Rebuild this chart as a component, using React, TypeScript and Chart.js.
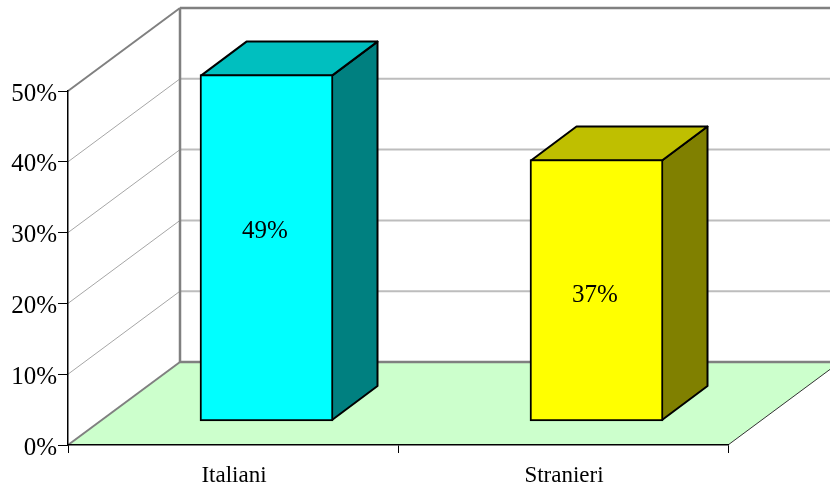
import React, { useEffect, useRef } from "react";
import { Chart, registerables } from "chart.js";

Chart.register(...registerables);

const categories = ["Italiani", "Stranieri"];
const values = [49, 37];
const valueLabels = ["49%", "37%"];
const labelAnchors = [27, 18];
const frontColors = ["#00FFFF", "#FFFF00"];
const topColors = ["#00BFBF", "#BFBF00"];
const sideColors = ["#008080", "#808000"];
const yTicks = [0, 10, 20, 30, 40, 50];

const WALL_DX = 112;
const WALL_DY = 83;
const BAR_SHIFT_X = 33.5;
const BAR_SHIFT_Y = -23.5;
const BAR_DX = 45.5;
const BAR_DY = 34;
const FLOOR = "#CCFFCC";

const line = (ctx: any, pts: number[][], color: string, width: number) => {
  ctx.beginPath();
  pts.forEach((p, i) => (i ? ctx.lineTo(p[0], p[1]) : ctx.moveTo(p[0], p[1])));
  ctx.strokeStyle = color;
  ctx.lineWidth = width;
  ctx.stroke();
};

const poly = (ctx: any, pts: number[][], fill: string) => {
  ctx.beginPath();
  pts.forEach((p, i) => (i ? ctx.lineTo(p[0], p[1]) : ctx.moveTo(p[0], p[1])));
  ctx.closePath();
  ctx.fillStyle = fill;
  ctx.fill();
  ctx.strokeStyle = "#000";
  ctx.lineWidth = 2;
  ctx.lineJoin = "round";
  ctx.stroke();
};

const box3d = {
  id: "box3d",
  beforeDraw(chart: any) {
    const { ctx, scales } = chart;
    const { left, right } = chart.chartArea;
    const y = scales.y;
    const y0 = y.getPixelForValue(0);
    ctx.save();
    ctx.beginPath();
    ctx.moveTo(left, y0);
    ctx.lineTo(right, y0);
    ctx.lineTo(right + WALL_DX, y0 - WALL_DY);
    ctx.lineTo(left + WALL_DX, y0 - WALL_DY);
    ctx.closePath();
    ctx.fillStyle = FLOOR;
    ctx.fill();
    line(ctx, [[right, y0], [right + WALL_DX, y0 - WALL_DY]], "#333", 1);
    yTicks.forEach((v) => {
      const p = y.getPixelForValue(v);
      const outer = v === 0 || v === 50;
      line(ctx, [[left, p], [left + WALL_DX, p - WALL_DY]], outer ? "#808080" : "#A6A6A6", outer ? 2 : 1);
      line(ctx, [[left + WALL_DX, p - WALL_DY], [right + WALL_DX, p - WALL_DY]], outer ? "#808080" : "#BDBDBD", outer ? 2.5 : 2);
    });
    line(ctx, [[left + WALL_DX, y.getPixelForValue(50) - WALL_DY], [left + WALL_DX, y0 - WALL_DY]], "#808080", 2.5);
    ctx.restore();
  },
  beforeDatasetDraw(chart: any, args: any) {
    const { ctx } = chart;
    args.meta.data.forEach((el: any, i: number) => {
      const xl = el.x - el.width / 2 + 1 + BAR_SHIFT_X;
      const xr = el.x + el.width / 2 - 1 + BAR_SHIFT_X;
      const yt = el.y + 1 + BAR_SHIFT_Y;
      const yb = el.base - 1 + BAR_SHIFT_Y;
      poly(ctx, [[xr, yt], [xr + BAR_DX, yt - BAR_DY], [xr + BAR_DX, yb - BAR_DY], [xr, yb]], sideColors[i]);
      poly(ctx, [[xl, yt], [xl + BAR_DX, yt - BAR_DY], [xr + BAR_DX, yt - BAR_DY], [xr, yt]], topColors[i]);
    });
    ctx.save();
    ctx.translate(BAR_SHIFT_X, BAR_SHIFT_Y);
  },
  afterDatasetDraw(chart: any) {
    chart.ctx.restore();
  },
  afterDatasetsDraw(chart: any) {
    const { ctx, scales } = chart;
    const meta = chart.getDatasetMeta(0);
    ctx.save();
    ctx.font = '25px "Liberation Serif"';
    ctx.fillStyle = "#000";
    ctx.textAlign = "center";
    ctx.textBaseline = "middle";
    meta.data.forEach((el: any, i: number) => {
      ctx.fillText(valueLabels[i], el.x + BAR_SHIFT_X - 1.5, scales.y.getPixelForValue(labelAnchors[i]) + BAR_SHIFT_Y + 1.5);
    });
    ctx.restore();
  },
};

export default function App() {
  const ref = useRef<HTMLCanvasElement>(null);
  useEffect(() => {
    const chart = new Chart(ref.current as HTMLCanvasElement, {
      type: "bar",
      data: {
        labels: categories,
        datasets: [
          {
            data: values,
            backgroundColor: frontColors,
            borderColor: "#000",
            borderWidth: 2,
            borderSkipped: false,
            barThickness: 133,
            clip: false as any,
          },
        ],
      },
      options: {
        responsive: false,
        animation: false,
        layout: { padding: { left: 0, top: 91, right: 102, bottom: 0 } },
        plugins: { legend: { display: false }, tooltip: { enabled: false } },
        scales: {
          x: {
            afterFit(s: any) {
              s.height = 44;
            },
            grid: { drawOnChartArea: false, drawTicks: true, tickLength: 8, tickColor: "#000", tickWidth: 1 },
            border: { color: "#000", width: 1.5 },
            ticks: { color: "#000", padding: 9, labelOffset: 1, maxRotation: 0, font: { family: "Liberation Serif", size: 23 } },
          },
          y: {
            min: 0,
            max: 50,
            afterFit(s: any) {
              s.width = 68;
            },
            afterBuildTicks(s: any) {
              s.ticks = yTicks.map((value) => ({ value }));
            },
            grid: { drawOnChartArea: false, drawTicks: true, tickLength: 10, tickColor: "#000", tickWidth: 1 },
            border: { color: "#000", width: 1.5 },
            ticks: { color: "#000", padding: 1, labelOffset: 3, callback: (v: any) => `${v}%`, font: { family: "Liberation Serif", size: 25 } },
          },
        },
      },
      plugins: [box3d],
    } as any);
    return () => chart.destroy();
  }, []);
  return (
    <div style={{ position: "absolute", left: 0, top: 0, width: 830, height: 489, overflow: "hidden", background: "#fff" }}>
      <canvas ref={ref} width={830} height={489} style={{ display: "block" }} />
    </div>
  );
}
